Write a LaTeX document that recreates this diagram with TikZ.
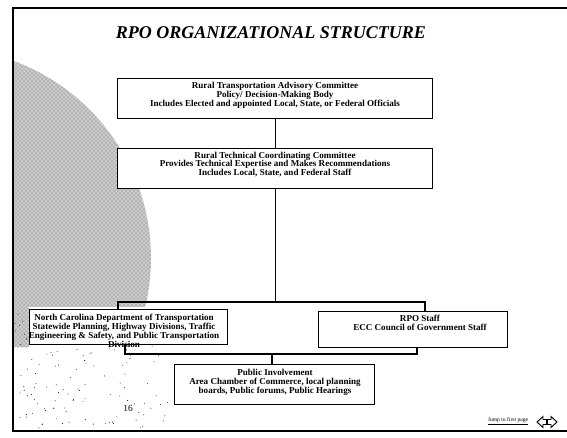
\documentclass[tikz,border=0pt]{standalone}
\usepackage{fontspec}
\setmainfont{Liberation Serif}
\usetikzlibrary{patterns}
\begin{document}
\begin{tikzpicture}[x=0.75pt,y=-0.75pt,
  frameline/.style={line width=1.6pt},
  boxshape/.style={draw, line width=1pt, fill=white, inner sep=0pt, anchor=north west},
  boxtext/.style={align=center, font=\bfseries\fontsize{6.8}{6.7}\selectfont, inner sep=0pt},
  conn/.style={line width=0.9pt},
  stipple/.style={pattern=crosshatch dots, pattern color=black!60}]
\useasboundingbox (0,0) rectangle (567,437);
\fill[white] (0,0) rectangle (567,437);
% stippled globe
\begin{scope}
  \clip (13,8) rectangle (170,306);
  \fill[black!20] (-59,258) circle[radius=157.5pt];
  \fill[stipple] (-59,258) circle[radius=157.5pt];
\end{scope}
\fill[black!20] (13,306) rectangle (29,347);
\fill[stipple] (13,306) rectangle (29,347);
\pgfmathsetseed{7}
\foreach \k in {1,...,140}{
  \pgfmathsetmacro\px{15+155*rnd}
  \pgfmathsetmacro\py{308+120*rnd}
  \fill (\px,\py) circle[radius=0.35pt];
}
% frame
\draw[frameline] (567,8) -- (13,8) -- (13,431) -- (567,431);
% title
\node[font=\bfseries\itshape\fontsize{13.5}{15}\selectfont, inner sep=0pt] (title) at (271,33) {RPO ORGANIZATIONAL STRUCTURE};
% boxes
\node[boxshape, minimum width=315*0.75pt, minimum height=40*0.75pt] (b1) at (117,78) {};
\node[boxshape, minimum width=315*0.75pt, minimum height=40*0.75pt] (b2) at (117,148) {};
\node[boxshape, minimum width=198*0.75pt, minimum height=35*0.75pt] (nc) at (29,309) {};
\node[boxshape, minimum width=189*0.75pt, minimum height=36*0.75pt] (rpo) at (318,311) {};
\node[boxshape, minimum width=200*0.75pt, minimum height=40*0.75pt] (pub) at (174,364) {};
% connectors
\coordinate (jl) at (118,302);
\coordinate (jr) at (425,302);
\coordinate (kl) at (125,354);
\coordinate (kr) at (417,354);
\coordinate (km) at (272,354);
\draw[conn] (b1.south) -- (b2.north);
\draw[conn] (b2.south) -- (b2.south |- jl);
\draw[conn] (jl |- nc.north) -- (jl) -- (jr) -- (jr |- rpo.north);
\draw[conn] (kl |- nc.south) -- (kl) -- (kr) -- (kr |- rpo.south);
\draw[conn] (km) -- (km |- pub.north);
% box texts
\node[boxtext] (t1) at (275,95.5) {Rural Transportation Advisory Committee\\Policy/ Decision-Making Body\\Includes Elected and appointed Local, State, or Federal Officials};
\node[boxtext] (t2) at (275,164.5) {Rural Technical Coordinating Committee\\Provides Technical Expertise and Makes Recommendations\\Includes Local, State, and Federal Staff};
\node[boxtext] (t3) at (124,330.5) {North Carolina Department of Transportation\\Statewide Planning, Highway Divisions, Traffic\\Engineering \& Safety, and Public Transportation\\Division};
\node[boxtext] (t4) at (420,322.5) {RPO Staff\\ECC Council of Government Staff};
\node[boxtext] (t5) at (275,382) {Public Involvement\\Area Chamber of Commerce, local planning\\boards, Public forums, Public Hearings};
% footer
\node[font=\fontsize{7}{8}\selectfont, inner sep=0pt] (pg) at (128,408) {16};
\node[font=\fontsize{4.2}{5}\selectfont, inner sep=0pt] (jump) at (508,421) {\underline{Jump to first page}};
\draw[line width=0.7pt] (537,422) -- (543,416.5) -- (543,419.5) -- (546.5,419.5) -- (546.5,424.5) -- (543,424.5) -- (543,427.5) -- cycle;
\draw[line width=0.7pt] (557,422) -- (551,416.5) -- (551,419.5) -- (547.5,419.5) -- (547.5,424.5) -- (551,424.5) -- (551,427.5) -- cycle;
\end{tikzpicture}
\end{document}
